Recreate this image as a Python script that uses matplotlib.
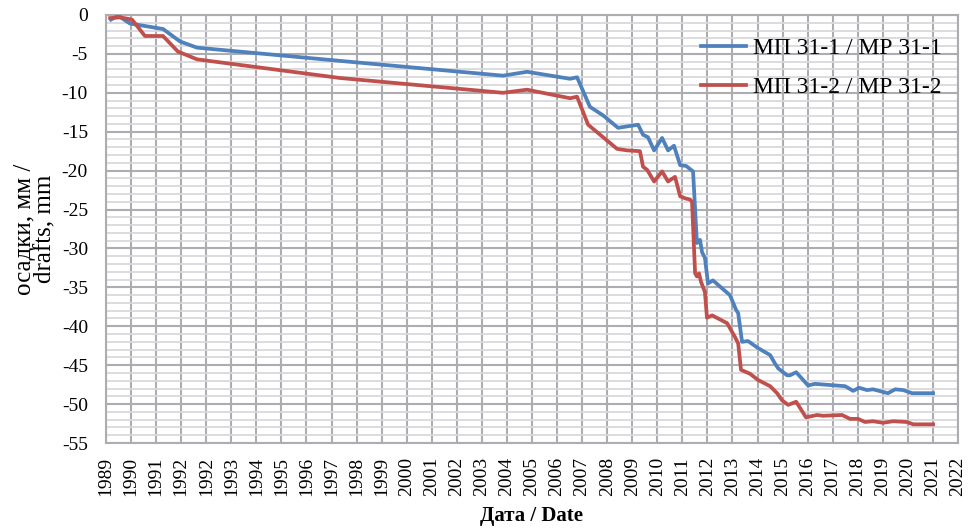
import numpy as np
import matplotlib
matplotlib.use("Agg")
from matplotlib import pyplot as plt
from matplotlib.ticker import MultipleLocator

plt.rcParams['font.family'] = ['Liberation Serif', 'DejaVu Serif']

# МП 31-1 / МР 31-1 (decimal years, settlement in mm)
years_1 = [1989.28, 1989.56, 1990.02, 1991.30, 1991.96, 1992.62, 1998.17, 2004.49, 2005.42,
           2007.09, 2007.36, 2007.86, 2008.37, 2008.95, 2009.73, 2009.92, 2010.11, 2010.35,
           2010.66, 2010.89, 2011.12, 2011.36, 2011.59, 2011.86, 2012.01, 2012.13, 2012.21,
           2012.32, 2012.44, 2012.63, 2013.29, 2013.53, 2013.61, 2013.76, 2013.99, 2014.38,
           2014.85, 2015.04, 2015.16, 2015.51, 2015.62, 2015.86, 2016.32, 2016.59, 2017.76,
           2018.07, 2018.30, 2018.61, 2018.84, 2019.42, 2019.70, 2020.01, 2020.36, 2021.17]
drafts_1 = [-0.6, -0.1, -1.1, -1.8, -3.4, -4.2, -5.9, -7.8, -7.3,
            -8.2, -8.0, -11.8, -12.9, -14.5, -14.1, -15.4, -15.7, -17.4,
            -15.8, -17.4, -16.8, -19.3, -19.4, -20.1, -29.3, -28.9, -30.5,
            -31.2, -34.5, -34.1, -36.0, -37.9, -38.3, -42.0, -41.9, -42.8,
            -43.7, -44.8, -45.4, -46.3, -46.3, -45.9, -47.6, -47.4, -47.7,
            -48.3, -47.9, -48.2, -48.1, -48.6, -48.1, -48.2, -48.6, -48.6]

# МП 31-2 / МР 31-2
years_2 = [1989.25, 1989.63, 1990.10, 1990.60, 1991.30, 1991.88, 1992.62, 1998.17, 2004.49,
           2005.42, 2007.09, 2007.36, 2007.79, 2008.91, 2009.30, 2009.80, 2009.92, 2010.08,
           2010.35, 2010.66, 2010.89, 2011.16, 2011.36, 2011.59, 2011.74, 2011.82, 2011.94,
           2012.01, 2012.09, 2012.17, 2012.32, 2012.40, 2012.60, 2013.18, 2013.49, 2013.61,
           2013.72, 2014.07, 2014.38, 2014.85, 2015.12, 2015.31, 2015.55, 2015.86, 2016.24,
           2016.67, 2016.90, 2017.64, 2017.95, 2018.26, 2018.53, 2018.84, 2019.23, 2019.62,
           2020.16, 2020.40, 2021.17]
drafts_2 = [-0.4, -0.3, -0.6, -2.7, -2.7, -4.7, -5.7, -8.1, -10.0,
            -9.6, -10.7, -10.5, -14.1, -17.2, -17.4, -17.5, -19.5, -19.9,
            -21.4, -20.1, -21.4, -20.8, -23.3, -23.6, -23.7, -24.0, -33.2,
            -33.6, -33.2, -34.3, -35.6, -38.9, -38.6, -39.6, -41.4, -42.2,
            -45.6, -46.1, -46.9, -47.7, -48.6, -49.5, -50.1, -49.7, -51.7,
            -51.4, -51.5, -51.4, -51.9, -51.9, -52.3, -52.2, -52.4, -52.2,
            -52.3, -52.6, -52.6]

labels = ['МП 31-1 / МР 31-1', 'МП 31-2 / МР 31-2']
colors = ['#4F81BD', '#C0504D']

# date axis: one tick every 355 days, labelled with the year of the tick date
tick_labels = ['1989', '1990', '1991', '1992', '1992'] + [str(y) for y in range(1993, 2023)]
tick_start = 1989.09
tick_step = 355 / 365.25
tick_pos = tick_start + tick_step * np.arange(len(tick_labels))

y_ticks = np.arange(0, -56, -5)

fig = plt.figure(figsize=(9.7, 5.31), dpi=100)
ax = fig.add_axes([0.1093, 0.1657, 0.8783, 0.8061])

ax.plot(years_1, drafts_1, color=colors[0], lw=2.7, label=labels[0], zorder=3)
ax.plot(years_2, drafts_2, color=colors[1], lw=2.7, label=labels[1], zorder=3)

ax.set_xlim(tick_pos[0], tick_pos[-1])
ax.set_ylim(-55, 0)
ax.set_xticks(tick_pos)
ax.set_xticklabels(tick_labels, rotation=90, fontsize=14)
ax.set_yticks(y_ticks)
ax.set_yticklabels([str(v) for v in y_ticks], fontsize=14)
ax.yaxis.set_minor_locator(MultipleLocator(1))
ax.tick_params(which='both', length=0)
ax.tick_params(axis='y', pad=13)
ax.tick_params(axis='x', pad=10)

ax.grid(which='minor', axis='y', color='#d9d9db', lw=1.3, zorder=0)
ax.grid(which='major', axis='both', color='#adadb1', lw=1.5, zorder=1)
for s in ax.spines.values():
    s.set_color('#adadb1')
    s.set_linewidth(1.5)

ax.set_xlabel('Дата / Date', fontsize=15, fontweight='bold', labelpad=7)
ax.set_ylabel('осадки, мм /\ndrafts, mm', fontsize=18, labelpad=4, linespacing=0.88)

ax.legend(loc='upper right', bbox_to_anchor=(1.0, 0.985), frameon=False, fontsize=17,
          handlelength=1.9, handletextpad=0.3, labelspacing=0.72, borderaxespad=0.3)

fig.savefig('out.png', dpi=100)
